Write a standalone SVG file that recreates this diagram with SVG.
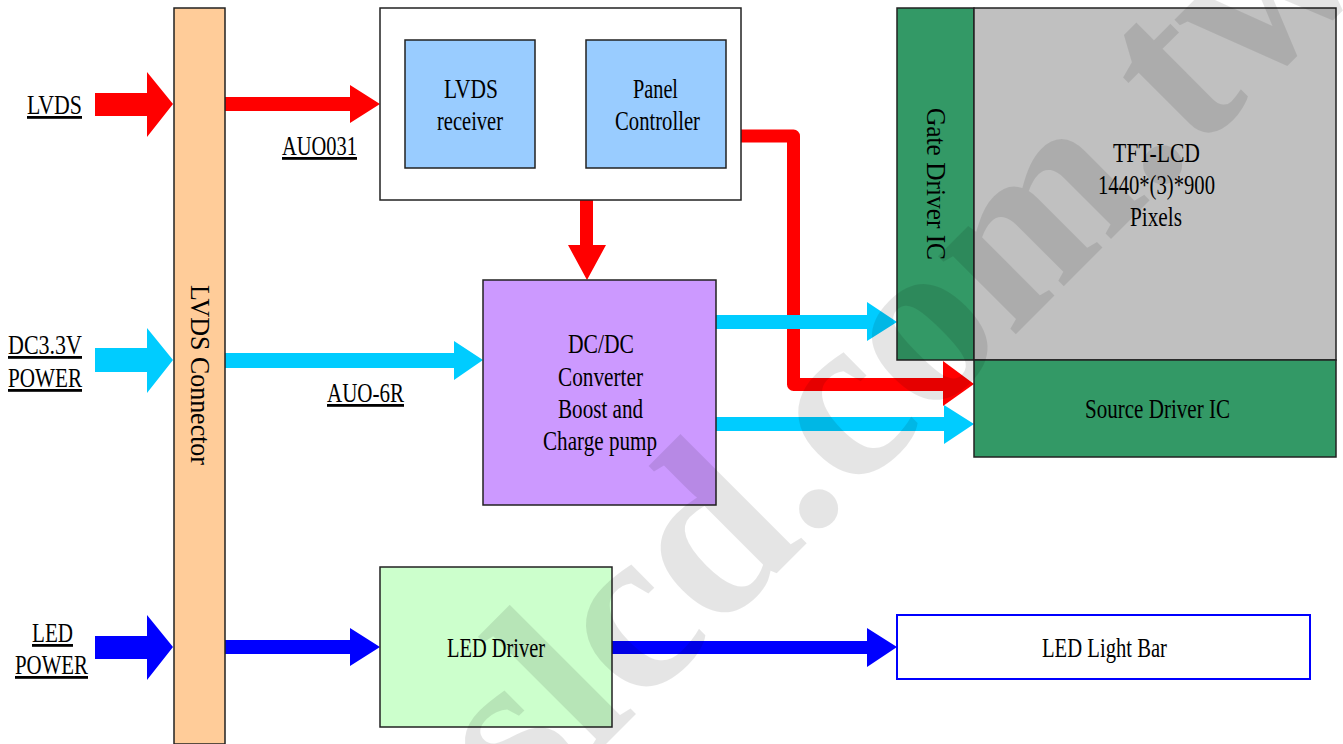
<svg xmlns="http://www.w3.org/2000/svg" width="1343" height="744" viewBox="0 0 1343 744">
<style>
.t{font-family:"Liberation Serif","Times New Roman",serif;font-size:28px;fill:#000;}
.u{text-decoration:underline;}
.box{stroke:#222;stroke-width:1.5;}
.red{fill:#FF0000;}
.cyan{fill:#00CCFF;}
.blue{fill:#0000FF;}
.lb{fill:#99CCFF;}
</style>
<rect width="1343" height="744" fill="#fff"/>

<g id="connectors">
  <!-- input block arrows -->
  <polygon class="red" points="95,93 147,93 147,72 173,104 147,137 147,116 95,116"/>
  <polygon class="cyan" points="95,348 147,348 147,328 173,360 147,393 147,372 95,372"/>
  <polygon class="blue" points="95,636 147,636 147,615 173,647 147,680 147,659 95,659"/>
  <!-- connector outputs -->
  <polygon class="red" points="225,97 350,97 350,85 380,104 350,123 350,111 225,111"/>
  <polygon class="cyan" points="225,353 454,353 454,341 483,360 454,380 454,368 225,368"/>
  <polygon class="blue" points="225,640 350,640 350,628 380,647 350,666 350,654 225,654"/>
  <!-- receiver to controller -->
  <polygon class="lb" points="535,95 560,95 560,78 586,104 560,130 560,113 535,113"/>
  <!-- down to DC/DC -->
  <polygon class="red" points="580,200 593,200 593,245 606,245 587,280 568,245 580,245"/>
  <!-- panel controller to source driver -->
  <path d="M741,136 H793.5 V384.5 H945" fill="none" stroke="#FF0000" stroke-width="13" stroke-linejoin="round"/>
  <polygon class="red" points="943,361 974,384 943,406"/>
  <!-- DC/DC outputs -->
  <polygon class="cyan" points="716,315 867,315 867,302 897,322 867,341 867,329 716,329"/>
  <polygon class="cyan" points="716,417 944,417 944,405 974,424 944,444 944,431 716,431"/>
  <!-- LED driver to light bar -->
  <polygon class="blue" points="612,641 867,641 867,628 897,647 867,667 867,654 612,654"/>
</g>

<g id="labels">
  <text class="t u" x="27" y="114" textLength="55" lengthAdjust="spacingAndGlyphs">LVDS</text>
  <text class="t u" x="8" y="354" textLength="74" lengthAdjust="spacingAndGlyphs">DC3.3V</text>
  <text class="t u" x="8" y="387" textLength="74" lengthAdjust="spacingAndGlyphs">POWER</text>
  <text class="t u" x="32" y="642" textLength="41" lengthAdjust="spacingAndGlyphs">LED</text>
  <text class="t u" x="15" y="674" textLength="73" lengthAdjust="spacingAndGlyphs">POWER</text>
  <text class="t u" x="282" y="155" textLength="75" lengthAdjust="spacingAndGlyphs">AUO031</text>
  <text class="t u" x="327" y="402" textLength="77" lengthAdjust="spacingAndGlyphs">AUO-6R</text>
</g>

<g id="lvds-connector">
  <rect class="box" x="174" y="8" width="51" height="736" fill="#FFCC99"/>
  <text class="t" transform="translate(191,375) rotate(90)" text-anchor="middle" textLength="180" lengthAdjust="spacingAndGlyphs">LVDS Connector</text>
</g>

<g id="timing-box">
  <rect class="box" x="380" y="8" width="361" height="192" fill="#fff"/>
</g>
<g id="lvds-receiver">
  <rect class="box" x="405" y="40" width="130" height="128" fill="#99CCFF"/>
  <text class="t" x="444" y="98" textLength="54" lengthAdjust="spacingAndGlyphs">LVDS</text>
  <text class="t" x="437" y="130" textLength="66" lengthAdjust="spacingAndGlyphs">receiver</text>
</g>
<g id="panel-controller">
  <rect class="box" x="586" y="40" width="140" height="128" fill="#99CCFF"/>
  <text class="t" x="633" y="98" textLength="45" lengthAdjust="spacingAndGlyphs">Panel</text>
  <text class="t" x="615" y="130" textLength="85" lengthAdjust="spacingAndGlyphs">Controller</text>
</g>

<g id="dcdc">
  <rect class="box" x="483" y="280" width="233" height="225" fill="#CC99FF"/>
  <text class="t" x="568" y="353" textLength="66" lengthAdjust="spacingAndGlyphs">DC/DC</text>
  <text class="t" x="558" y="386" textLength="85" lengthAdjust="spacingAndGlyphs">Converter</text>
  <text class="t" x="558" y="418" textLength="85" lengthAdjust="spacingAndGlyphs">Boost and</text>
  <text class="t" x="543" y="450" textLength="114" lengthAdjust="spacingAndGlyphs">Charge pump</text>
</g>

<g id="gate-driver">
  <rect class="box" x="897" y="8" width="77" height="352" fill="#339966"/>
  <text class="t" transform="translate(927,184) rotate(90)" text-anchor="middle" textLength="152" lengthAdjust="spacingAndGlyphs">Gate Driver IC</text>
</g>
<g id="tft-lcd">
  <rect class="box" x="974" y="8" width="362" height="352" fill="#C0C0C0"/>
  <text class="t" x="1113" y="162" textLength="87" lengthAdjust="spacingAndGlyphs">TFT-LCD</text>
  <text class="t" x="1098" y="194" textLength="117" lengthAdjust="spacingAndGlyphs">1440*(3)*900</text>
  <text class="t" x="1130" y="226" textLength="52" lengthAdjust="spacingAndGlyphs">Pixels</text>
</g>
<g id="source-driver">
  <rect class="box" x="974" y="360" width="362" height="97" fill="#339966"/>
  <text class="t" x="1085" y="418" textLength="145" lengthAdjust="spacingAndGlyphs">Source Driver IC</text>
</g>

<g id="led-driver">
  <rect class="box" x="380" y="567" width="232" height="160" fill="#CCFFCC"/>
  <text class="t" x="447" y="657" textLength="98" lengthAdjust="spacingAndGlyphs">LED Driver</text>
</g>
<g id="led-light-bar">
  <rect x="897" y="615" width="413" height="64" fill="#fff" stroke="#0000FF" stroke-width="2"/>
  <text class="t" x="1042" y="657" textLength="125" lengthAdjust="spacingAndGlyphs">LED Light Bar</text>
</g>

<text transform="translate(950,400) rotate(-45)" text-anchor="middle" font-family="Liberation Serif, serif" font-weight="bold" font-size="240" fill="#000" fill-opacity="0.1">slcd.com.tw</text>
</svg>
